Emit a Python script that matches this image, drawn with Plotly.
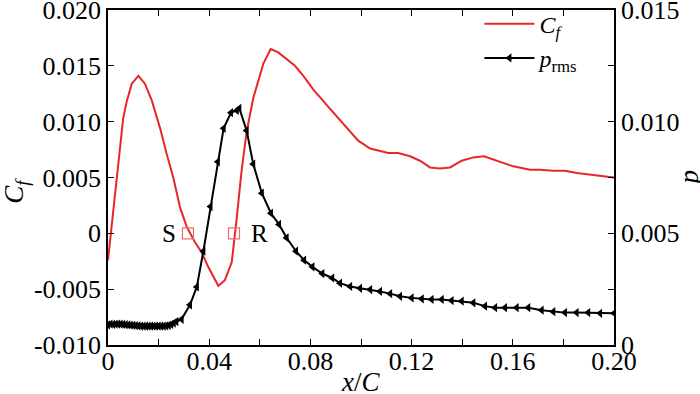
import plotly.graph_objects as go

# ---- data ----
cf_x = [0.0, 0.0021, 0.0041, 0.0060, 0.0074, 0.0094, 0.0120, 0.0146, 0.0173, 0.0206,
        0.0232, 0.0258, 0.0285, 0.0311, 0.0344, 0.0370, 0.0396, 0.0436, 0.0462, 0.0489,
        0.0509, 0.0528, 0.0548, 0.0574, 0.0614, 0.0643, 0.0673, 0.0706, 0.0739, 0.0772,
        0.0811, 0.0864, 0.0930, 0.0989, 0.1036, 0.1108, 0.1147, 0.1194, 0.1233, 0.1273,
        0.1312, 0.1352, 0.1398, 0.1444, 0.1486, 0.1536, 0.1602, 0.1668, 0.1708, 0.1760,
        0.1806, 0.1853, 0.1932, 0.2000]
cf_y = [-0.0024, 0.0020, 0.0065, 0.0103, 0.0118, 0.0134, 0.0141, 0.0134, 0.0119, 0.0094,
        0.0071, 0.0050, 0.0023, 0.0006, -0.0008, -0.0017, -0.0030, -0.0047, -0.0042, -0.0026,
        0.0014, 0.0056, 0.0091, 0.0121, 0.0152, 0.0165, 0.0162, 0.0156, 0.0150, 0.0141,
        0.0129, 0.0115, 0.0098, 0.0083, 0.0076, 0.0072, 0.0072, 0.0069, 0.0065, 0.0059,
        0.0058, 0.0059, 0.0065, 0.0068, 0.0069, 0.0065, 0.0060, 0.0057, 0.0057, 0.0056,
        0.0056, 0.0054, 0.0052, 0.0050]

p_x = [0.000, 0.001, 0.002, 0.003, 0.004, 0.005, 0.006, 0.007, 0.008, 0.009,
       0.010, 0.011, 0.012, 0.013, 0.014, 0.015, 0.016, 0.017, 0.018, 0.019,
       0.020, 0.021, 0.022, 0.023, 0.024, 0.025, 0.026, 0.027,
       0.0291, 0.0324, 0.0351, 0.0377, 0.0405, 0.0434, 0.0457, 0.0486, 0.0509, 0.0519,
       0.0548, 0.0574, 0.0608, 0.0644, 0.0676, 0.0706, 0.0743, 0.0775, 0.0808, 0.0847,
       0.0886, 0.0917, 0.0957, 0.0996, 0.1036, 0.1075, 0.1115, 0.1154, 0.1200, 0.1240,
       0.1279, 0.1319, 0.1358, 0.1398, 0.1444, 0.1490, 0.1530, 0.1569, 0.1615, 0.1661,
       0.1714, 0.1760, 0.1806, 0.1852, 0.1898, 0.1945, 0.2000]
p_y = [0.00090, 0.00093, 0.00092, 0.00093, 0.00094, 0.00093, 0.00092, 0.00091, 0.00090, 0.00089,
       0.00088, 0.00087, 0.00086, 0.00085, 0.00085, 0.00084, 0.00084, 0.00085, 0.00084, 0.00084,
       0.00085, 0.00084, 0.00085, 0.00086, 0.00088, 0.00092, 0.00098, 0.00105,
       0.00115, 0.0018, 0.0026, 0.0042, 0.0062, 0.0082, 0.0097, 0.0104, 0.0105, 0.0106,
       0.0096, 0.0081, 0.0068, 0.0059, 0.0054, 0.0048, 0.0042, 0.0038, 0.0035, 0.0032,
       0.0030, 0.00277, 0.00262, 0.00254, 0.00248, 0.00240, 0.00230, 0.00218, 0.00211, 0.00207,
       0.00204, 0.00204, 0.00199, 0.00196, 0.00189, 0.00174, 0.00167, 0.00167, 0.00167, 0.00167,
       0.00156, 0.00149, 0.00145, 0.00145, 0.00145, 0.00142, 0.00142]

sr_x = [0.0316, 0.0498]
sr_y = [0.0, 0.0]
sr_labels = ["S", "R"]
sr_label_x = [0.0241, 0.0600]

x_ticks = [0.0, 0.02, 0.04, 0.06, 0.08, 0.10, 0.12, 0.14, 0.16, 0.18, 0.20]
x_text = ["0", "", "0.04", "", "0.08", "", "0.12", "", "0.16", "", "0.20"]
y_ticks = [-0.010, -0.005, 0.0, 0.005, 0.010, 0.015, 0.020]
y_text = ["-0.010", "-0.005", "0", "0.005", "0.010", "0.015", "0.020"]
y2_ticks = [0.0, 0.0025, 0.005, 0.0075, 0.010, 0.0125, 0.015]
y2_text = ["0", "", "0.005", "", "0.010", "", "0.015"]

FONT = "Times New Roman, Liberation Serif, serif"
RED = "#e8262a"

fig = go.Figure()
fig.add_trace(go.Scatter(x=cf_x, y=cf_y, mode="lines", name="<i>C</i><sub><i>f</i></sub>",
                         line=dict(color=RED, width=2)))
fig.add_trace(go.Scatter(x=p_x, y=p_y, mode="lines+markers", name="<i>p</i><sub>rms</sub>",
                         yaxis="y2", line=dict(color="black", width=2),
                         marker=dict(symbol="triangle-left", size=8, color="black")))
fig.add_trace(go.Scatter(x=sr_x, y=sr_y, mode="markers", showlegend=False,
                         marker=dict(symbol="square-open", size=11, color="#f06a6a",
                                     line=dict(width=1.2))))
for lx, lt in zip(sr_label_x, sr_labels):
    fig.add_annotation(x=lx, y=0, xref="x", yref="y", text=lt, showarrow=False,
                       font=dict(family=FONT, size=25, color="black"))

fig.add_annotation(x=-0.182, y=0.46, xref="paper", yref="paper", textangle=-90,
                   xanchor="center", yanchor="middle",
                   text="<i>C</i><sub><i>f</i></sub>", showarrow=False,
                   font=dict(family=FONT, size=27, color="black"))
fig.add_annotation(x=0.5, y=-0.11, xref="paper", yref="paper",
                   xanchor="center", yanchor="middle",
                   text="<i>x</i>/<i>C</i>", showarrow=False,
                   font=dict(family=FONT, size=27, color="black"))
fig.add_annotation(x=1.148, y=0.5, xref="paper", yref="paper", textangle=-90,
                   xanchor="center", yanchor="middle",
                   text="<i>p</i>", showarrow=False,
                   font=dict(family=FONT, size=27, color="black"))

axis_common = dict(showgrid=False, zeroline=False, showline=True, linecolor="black",
                   linewidth=1.5, ticks="inside", ticklen=6, tickcolor="black",
                   ticklabeloverflow="allow", automargin=False,
                   tickfont=dict(family=FONT, size=26, color="black"))

fig.update_layout(
    width=700, height=394,
    margin=dict(l=108, r=86, t=10, b=49, autoexpand=False),
    plot_bgcolor="white", paper_bgcolor="white",
    xaxis=dict(range=[0, 0.2], tickvals=x_ticks, ticktext=x_text, mirror="ticks",
               ticklabelstandoff=-8, **axis_common),
    yaxis=dict(range=[-0.010, 0.0200001], tickvals=y_ticks, ticktext=y_text, **axis_common),
    yaxis2=dict(range=[0, 0.0150001], tickvals=y2_ticks, ticktext=y2_text, overlaying="y",
                side="right", **axis_common),
    legend=dict(x=0.734, y=1.025, xanchor="left", yanchor="top", bgcolor="rgba(0,0,0,0)",
                font=dict(family=FONT, size=24, color="black"), tracegroupgap=0,
                itemwidth=50),
    showlegend=True,
)

fig.write_html("out.html", config={"displayModeBar": False},
               post_script="document.body.style.margin='0';")
